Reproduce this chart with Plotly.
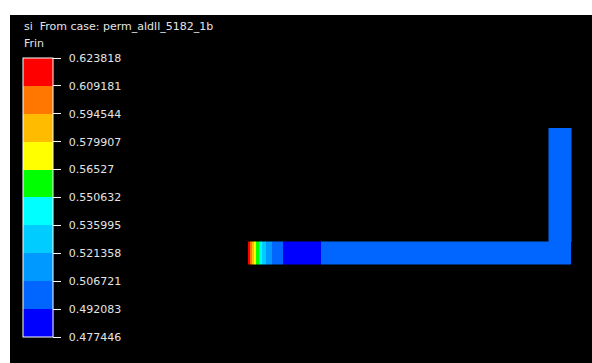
import plotly.graph_objects as go

# Frin contour levels shown on the colour bar
levels = [0.477446, 0.492083, 0.506721, 0.521358, 0.535995, 0.550632,
          0.56527, 0.579907, 0.594544, 0.609181, 0.623818]
level_labels = ["0.477446", "0.492083", "0.506721", "0.521358", "0.535995",
                "0.550632", "0.56527", "0.579907", "0.594544", "0.609181",
                "0.623818"]
band_colors = ["#0000ff", "#0066ff", "#0099ff", "#00ccff", "#00ffff",
               "#00ff00", "#ffff00", "#ffbb00", "#ff7700", "#ff0000"]

# Horizontal leg: cell edges along the pipe axis and Frin per cell
h_edges = [0, 2, 4, 6, 8, 11, 14, 18, 24, 35, 73, 323]
h_frin = [0.617, 0.602, 0.587, 0.572, 0.558, 0.543, 0.528, 0.514, 0.499,
          0.485, 0.499]
h_height = [0, 22.5]

# Vertical riser at the far end
v_edges_x = [300.5, 323]
v_edges_y = [22.5, 136]
v_frin = [0.499]

zmin, zmax = levels[0], levels[-1]

# discrete colour scale: one flat band per level interval
colorscale = []
for i, c in enumerate(band_colors):
    a = (levels[i] - zmin) / (zmax - zmin)
    b = (levels[i + 1] - zmin) / (zmax - zmin)
    colorscale.append([a, c])
    colorscale.append([b, c])

W, H = 592, 363
ML, MT = 10, 15
PW, PH = W - ML, H - MT

bar_left_px, bar_w_px = 23, 30
bar_top_px, bar_bot_px = 58, 337

def px_x(px):
    return (px - ML) / PW

def px_y(py):
    return 1 - (py - MT) / PH

FONT = "DejaVu Sans, Liberation Sans, Arial"
text_font = dict(family=FONT, size=11, color="#e4e4e4")

fig = go.Figure()

fig.add_trace(go.Heatmap(
    x=h_edges, y=h_height, z=[h_frin],
    zmin=zmin, zmax=zmax, colorscale=colorscale,
    hoverinfo="skip",
    colorbar=dict(
        x=px_x(bar_left_px), xanchor="left", xpad=0,
        y=px_y((bar_top_px + bar_bot_px) / 2), yanchor="middle", ypad=0,
        thicknessmode="pixels", thickness=bar_w_px,
        lenmode="pixels", len=bar_bot_px - bar_top_px,
        outlinecolor="#ffffff", outlinewidth=1,
        tickmode="array", tickvals=levels,
        ticktext=["\u2002" + t for t in level_labels],
        ticks="outside", ticklen=8, tickcolor="#ffffff", tickwidth=1,
        tickfont=text_font,
        bgcolor="rgba(0,0,0,0)", borderwidth=0,
    ),
))

fig.add_trace(go.Heatmap(
    x=v_edges_x, y=v_edges_y, z=[v_frin],
    zmin=zmin, zmax=zmax, colorscale=colorscale,
    showscale=False, hoverinfo="skip",
))

# thin separators between colour bands
shapes = []
for lv in levels[1:-1]:
    frac = (lv - zmin) / (zmax - zmin)
    py = bar_bot_px - frac * (bar_bot_px - bar_top_px)
    shapes.append(dict(
        type="line", xref="paper", yref="paper",
        x0=px_x(bar_left_px), x1=px_x(bar_left_px + bar_w_px),
        y0=px_y(py), y1=px_y(py),
        line=dict(color="rgba(255,255,255,0.45)", width=1),
    ))

annotations = [
    dict(text="si  From case: perm_aldll_5182_1b", xref="paper", yref="paper",
         x=px_x(22), y=px_y(26), xanchor="left", yanchor="middle",
         showarrow=False, font=text_font),
    dict(text="Frin", xref="paper", yref="paper",
         x=px_x(22), y=px_y(43.5), xanchor="left", yanchor="middle",
         showarrow=False, font=text_font),
]

fig.update_layout(
    width=W, height=H,
    margin=dict(l=ML, r=0, t=MT, b=0, pad=0, autoexpand=False),
    paper_bgcolor="#ffffff", plot_bgcolor="#000000",
    xaxis=dict(range=[-238, 344], visible=False, fixedrange=True),
    yaxis=dict(range=[-99, 249], visible=False, fixedrange=True),
    shapes=shapes, annotations=annotations,
    showlegend=False,
)

fig.write_html("out.html")
